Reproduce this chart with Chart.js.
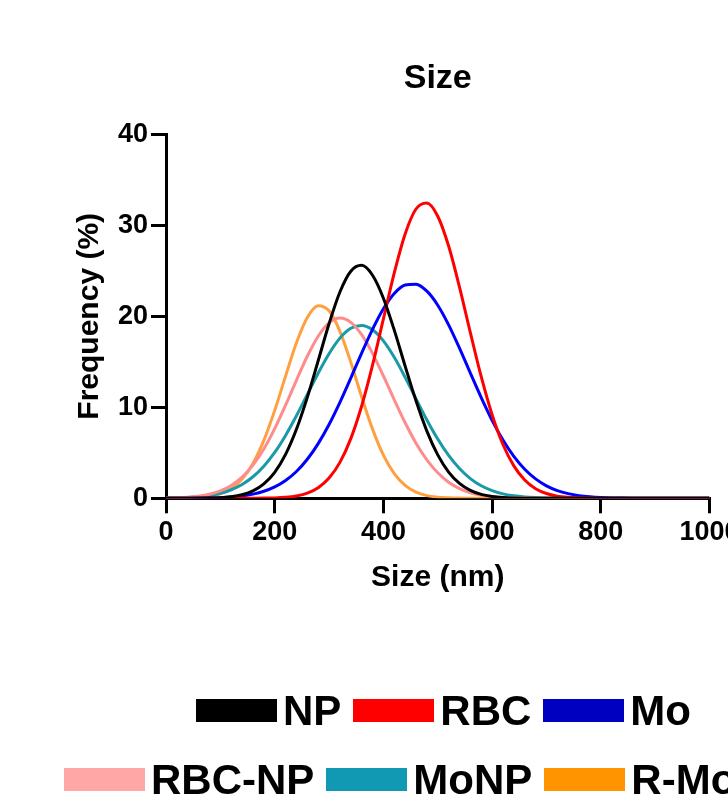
<!DOCTYPE html>
<html>
<head>
<meta charset="utf-8">
<script src="https://cdn.jsdelivr.net/npm/chart.js@4.4.1/dist/chart.umd.min.js"></script>
<style>
html, body { margin: 0; padding: 0; background: #fff; overflow: hidden; width: 728px; height: 798px; }
#wrap { position: relative; width: 728px; height: 798px; overflow: hidden; background: #fff; }
#c { position: absolute; left: 0; top: 0; }
.row { position: absolute; display: flex; align-items: center; white-space: nowrap;
  font-family: "Liberation Sans", Arial, sans-serif; font-weight: bold; font-size: 42px; line-height: 1; color: #000; }
.sw { width: 81px; height: 23px; margin-right: 6px; flex: none; }
.lab { margin-right: 12px; }
</style>
</head>
<body>
<div id="wrap">
  <canvas id="c" width="760" height="798" style="width:760px;height:798px"></canvas>
  <div class="row" id="row1" style="left:196px;top:689.5px"></div>
  <div class="row" id="row2" style="left:64px;top:758.5px"></div>
</div>
<script>
// ---- data ----
const sizes = [0,20,40,60,80,100,120,140,160,180,200,220,240,260,280,300,320,340,360,380,400,420,440,460,480,500,520,540,560,580,600,620,640,660,680,700,720,740,760,780,800,820,840,860,880,900,920,940,960,980,1000];

const seriesNames = ['NP', 'RBC', 'Mo', 'RBC-NP', 'MoNP', 'R-Mo'];

const npValues = [0,0,0,0.01,0.03,0.07,0.17,0.39,0.81,1.58,2.86,4.83,7.58,11.09,15.11,19.18,22.67,24.95,25.6,24.51,21.99,18.48,14.53,10.71,7.38,4.77,2.88,1.63,0.87,0.43,0.20,0.09,0.04,0.01,0,0,0,0,0,0,0,0,0,0,0,0,0,0,0,0,0];
const rbcValues = [0,0,0,0,0,0,0,0,0.01,0.02,0.04,0.11,0.26,0.57,1.17,2.23,3.95,6.56,10.14,14.63,19.71,24.77,29.05,31.79,32.45,31.00,27.72,23.21,18.20,13.36,9.18,5.91,3.56,2.01,1.06,0.53,0.24,0.11,0.05,0.02,0.01,0,0,0,0,0,0,0,0,0,0];
const moValues = [0,0,0.01,0.02,0.04,0.07,0.14,0.26,0.46,0.77,1.25,1.96,2.95,4.29,6.01,8.11,10.55,13.21,15.96,18.57,20.83,22.51,23.44,23.53,22.76,21.22,19.06,16.50,13.76,11.07,8.57,6.40,4.61,3.19,2.13,1.37,0.85,0.51,0.29,0.16,0.08,0.04,0.02,0.01,0,0,0,0,0,0,0];
const rbcNpValues = [0.02,0.05,0.11,0.23,0.44,0.81,1.41,2.33,3.65,5.42,7.65,10.23,12.97,15.61,17.81,19.28,19.80,19.33,17.98,15.93,13.45,10.82,8.30,6.06,4.22,2.80,1.77,1.07,0.61,0.33,0.17,0.09,0.04,0.02,0.01,0,0,0,0,0,0,0,0,0,0,0,0,0,0,0,0];
const moNpValues = [0.02,0.04,0.09,0.17,0.31,0.55,0.94,1.52,2.37,3.53,5.04,6.91,9.07,11.41,13.75,15.89,17.60,18.68,19.00,18.52,17.30,15.49,13.29,10.93,8.61,6.51,4.71,3.27,2.17,1.38,0.85,0.49,0.28,0.15,0.08,0.04,0.02,0.01,0,0,0,0,0,0,0,0,0,0,0,0,0];
const rMoValues = [0,0.01,0.03,0.08,0.21,0.49,1.06,2.11,3.82,6.36,9.66,13.43,17.09,19.88,21.16,20.60,18.35,14.95,11.14,7.60,4.74,2.70,1.41,0.67,0.29,0.12,0.05,0.02,0.01,0,0,0,0,0,0,0,0,0,0,0,0,0,0,0,0,0,0,0,0,0,0];

const xTickValues = [0, 200, 400, 600, 800, 1000];
const xTickLabels = ['0', '200', '400', '600', '800', '1000'];
const yTickValues = [0, 10, 20, 30, 40];
const yTickLabels = ['0', '10', '20', '30', '40'];

const chartTitle = 'Size';
const xTitle = 'Size (nm)';
const yTitle = 'Frequency (%)';

// ---- styles ----
const lineColors = ['#000000', '#FF0000', '#0000FF', '#FF8C8C', '#1A99A8', '#FFA040'];
const legendColors = ['#000000', '#FF0000', '#0000C0', '#FFA6A6', '#1199B4', '#FF9400'];
const FAMILY = '"Liberation Sans", Arial, sans-serif';

const allValues = [npValues, rbcValues, moValues, rbcNpValues, moNpValues, rMoValues];

const datasets = seriesNames.map((name, i) => ({
  label: name,
  data: sizes.map((x, j) => ({ x: x, y: allValues[i][j] })),
  borderColor: lineColors[i],
  backgroundColor: lineColors[i],
  borderWidth: 3,
  pointRadius: 0,
  fill: false,
  cubicInterpolationMode: 'monotone'
}));

const axisCommon = {
  grid: { drawOnChartArea: false, drawTicks: true, tickLength: 15, tickWidth: 3, lineWidth: 3, color: '#000', tickColor: '#000' },
  border: { display: true, width: 3, color: '#000' }
};

new Chart(document.getElementById('c'), {
  type: 'line',
  data: { datasets: datasets },
  options: {
    responsive: false,
    animation: false,
    devicePixelRatio: 1,
    layout: { padding: { top: 58, left: 72, right: 50.5, bottom: 202 } },
    plugins: {
      legend: { display: false },
      tooltip: { enabled: false },
      title: {
        display: true, text: chartTitle, color: '#000', fullSize: false,
        font: { family: FAMILY, size: 34, weight: 'bold' },
        padding: { top: 0, bottom: 35.5 }
      }
    },
    scales: {
      x: Object.assign({}, axisCommon, {
        type: 'linear', min: 0, max: 1000,
        afterBuildTicks: (s) => { s.ticks = xTickValues.map(v => ({ value: v })); },
        ticks: { color: '#000', padding: 3, maxRotation: 0, autoSkip: false,
          callback: (v, i) => xTickLabels[i],
          font: { family: FAMILY, size: 27, weight: 'bold' } },
        title: { display: true, text: xTitle, color: '#000', padding: { top: 0, bottom: 0 }, font: { family: FAMILY, size: 30, weight: 'bold' } },
        afterFit: (s) => { s.height = 97.7; }
      }),
      y: Object.assign({}, axisCommon, {
        type: 'linear', min: 0, max: 40,
        afterBuildTicks: (s) => { s.ticks = yTickValues.map(v => ({ value: v })); },
        ticks: { color: '#000', padding: 3, autoSkip: false,
          callback: (v, i) => yTickLabels[i],
          font: { family: FAMILY, size: 27, weight: 'bold' } },
        title: { display: true, text: yTitle, color: '#000', padding: { top: 0, bottom: 0 }, font: { family: FAMILY, size: 30, weight: 'bold' } },
        afterFit: (s) => { s.width = 94; }
      })
    }
  }
});

// ---- legend (HTML, built from the series names) ----
const rows = [document.getElementById('row1'), document.getElementById('row2')];
seriesNames.forEach((name, i) => {
  const row = rows[i < 3 ? 0 : 1];
  const sw = document.createElement('span');
  sw.className = 'sw';
  sw.style.background = legendColors[i];
  const lab = document.createElement('span');
  lab.className = 'lab';
  lab.textContent = name;
  row.appendChild(sw);
  row.appendChild(lab);
});
</script>
</body>
</html>
